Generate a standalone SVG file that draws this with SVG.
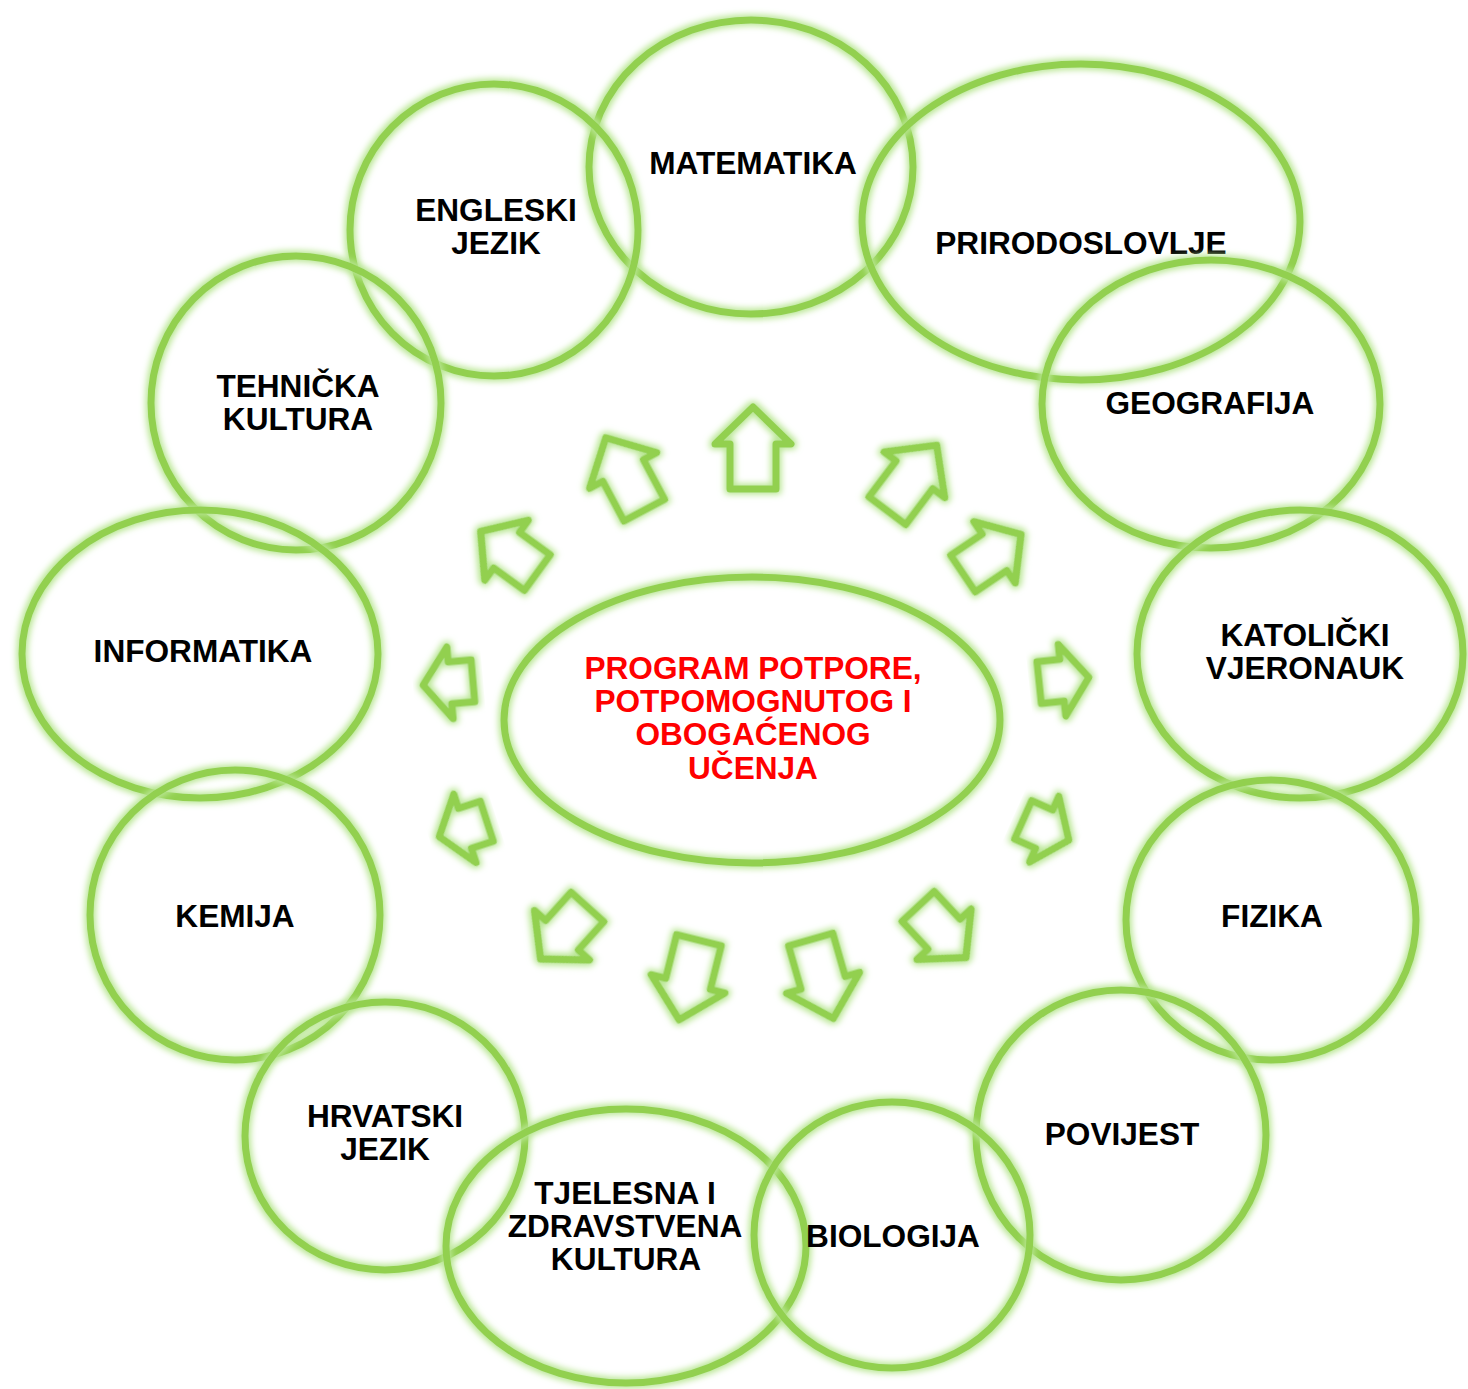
<svg xmlns="http://www.w3.org/2000/svg" xmlns:xlink="http://www.w3.org/1999/xlink" width="1468" height="1389" viewBox="0 0 1468 1389">
<defs>
<filter id="glow" x="-20%" y="-20%" width="140%" height="140%">
<feMorphology in="SourceAlpha" operator="dilate" radius="2" result="d"/>
<feGaussianBlur in="d" stdDeviation="3" result="b"/>
<feFlood flood-color="#b8e692" result="c"/>
<feComposite in="c" in2="b" operator="in" result="g"/>
<feMerge><feMergeNode in="g"/><feMergeNode in="SourceGraphic"/></feMerge>
</filter>
<path id="arrL" d="M0,-41 L38,-4 L23,-4 L23,41 L-23,41 L-23,-4 L-38,-4 Z"/>
<path id="arrM" d="M0,-35 L37,-3 L22,-3 L22,35 L-22,35 L-22,-3 L-37,-3 Z"/>
<path id="arrS" d="M0,-25 L36,2 L21,2 L21,25 L-21,25 L-21,2 L-36,2 Z"/>
</defs>
<style>
.sh{fill:none;stroke:#92d050;stroke-width:7;stroke-linejoin:round;stroke-linecap:round;filter:url(#glow)}
.t{font-family:"Liberation Sans",Arial,sans-serif;font-weight:bold;font-size:31.6px;fill:#000;text-anchor:middle}
.r{fill:#ff0000}
</style>
<rect width="1468" height="1389" fill="#fff"/>

<g id="center">
<ellipse class="sh" cx="752" cy="720" rx="248" ry="143"/>
<text class="t r" x="753" y="679">PROGRAM POTPORE,</text>
<text class="t r" x="753" y="712">POTPOMOGNUTOG I</text>
<text class="t r" x="753" y="745">OBOGAĆENOG</text>
<text class="t r" x="753" y="779">UČENJA</text>
</g>

<g id="matematika">
<ellipse class="sh" cx="751" cy="167" rx="162" ry="147"/>
<text class="t" x="753" y="174">MATEMATIKA</text>
</g>
<g id="engleski">
<ellipse class="sh" cx="494" cy="230" rx="144" ry="146"/>
<text class="t" x="496" y="221">ENGLESKI</text>
<text class="t" x="496" y="254">JEZIK</text>
</g>
<g id="prirodoslovlje">
<ellipse class="sh" cx="1081" cy="222" rx="219" ry="158"/>
<text class="t" x="1081" y="254">PRIRODOSLOVLJE</text>
</g>
<g id="geografija">
<ellipse class="sh" cx="1211" cy="404" rx="169" ry="144"/>
<text class="t" x="1210" y="414">GEOGRAFIJA</text>
</g>
<g id="tehnicka">
<ellipse class="sh" cx="296" cy="403" rx="145" ry="147"/>
<text class="t" x="298" y="397">TEHNIČKA</text>
<text class="t" x="298" y="430">KULTURA</text>
</g>
<g id="informatika">
<ellipse class="sh" cx="200" cy="654" rx="178" ry="144"/>
<text class="t" x="203" y="662">INFORMATIKA</text>
</g>
<g id="katolicki">
<ellipse class="sh" cx="1300" cy="654" rx="163" ry="144"/>
<text class="t" x="1305" y="646">KATOLIČKI</text>
<text class="t" x="1305" y="679">VJERONAUK</text>
</g>
<g id="kemija">
<ellipse class="sh" cx="235" cy="915" rx="145" ry="145"/>
<text class="t" x="235" y="927">KEMIJA</text>
</g>
<g id="fizika">
<ellipse class="sh" cx="1271" cy="920" rx="145" ry="140"/>
<text class="t" x="1272" y="927">FIZIKA</text>
</g>
<g id="hrvatski">
<ellipse class="sh" cx="385" cy="1136" rx="140" ry="134"/>
<text class="t" x="385" y="1127">HRVATSKI</text>
<text class="t" x="385" y="1160">JEZIK</text>
</g>
<g id="povijest">
<ellipse class="sh" cx="1121" cy="1135" rx="145" ry="145"/>
<text class="t" x="1122" y="1145">POVIJEST</text>
</g>
<g id="tjelesna">
<ellipse class="sh" cx="626" cy="1246" rx="180" ry="137"/>
<text class="t" x="625" y="1204">TJELESNA I</text>
<text class="t" x="625" y="1237">ZDRAVSTVENA</text>
<text class="t" x="626" y="1270">KULTURA</text>
</g>
<g id="biologija">
<ellipse class="sh" cx="892" cy="1235" rx="138" ry="133"/>
<text class="t" x="893" y="1247">BIOLOGIJA</text>
</g>

<g id="arrows">
<use xlink:href="#arrL" class="sh" transform="translate(753,448)"/>
<use xlink:href="#arrL" class="sh" transform="translate(625,474) rotate(-28)"/>
<use xlink:href="#arrL" class="sh" transform="translate(912,478) rotate(37)"/>
<use xlink:href="#arrM" class="sh" transform="translate(992,554) rotate(56)"/>
<use xlink:href="#arrM" class="sh" transform="translate(509,552) rotate(-54)"/>
<use xlink:href="#arrS" class="sh" transform="translate(448,683) rotate(-95)"/>
<use xlink:href="#arrS" class="sh" transform="translate(1064,680) rotate(84)"/>
<use xlink:href="#arrS" class="sh" transform="translate(463,829) rotate(-108)"/>
<use xlink:href="#arrS" class="sh" transform="translate(1046,830) rotate(114)"/>
<use xlink:href="#arrM" class="sh" transform="translate(564,933) rotate(-138)"/>
<use xlink:href="#arrL" class="sh" transform="translate(689,980) rotate(194)"/>
<use xlink:href="#arrL" class="sh" transform="translate(822,979) rotate(164)"/>
<use xlink:href="#arrM" class="sh" transform="translate(942,932) rotate(137)"/>
</g>
</svg>
